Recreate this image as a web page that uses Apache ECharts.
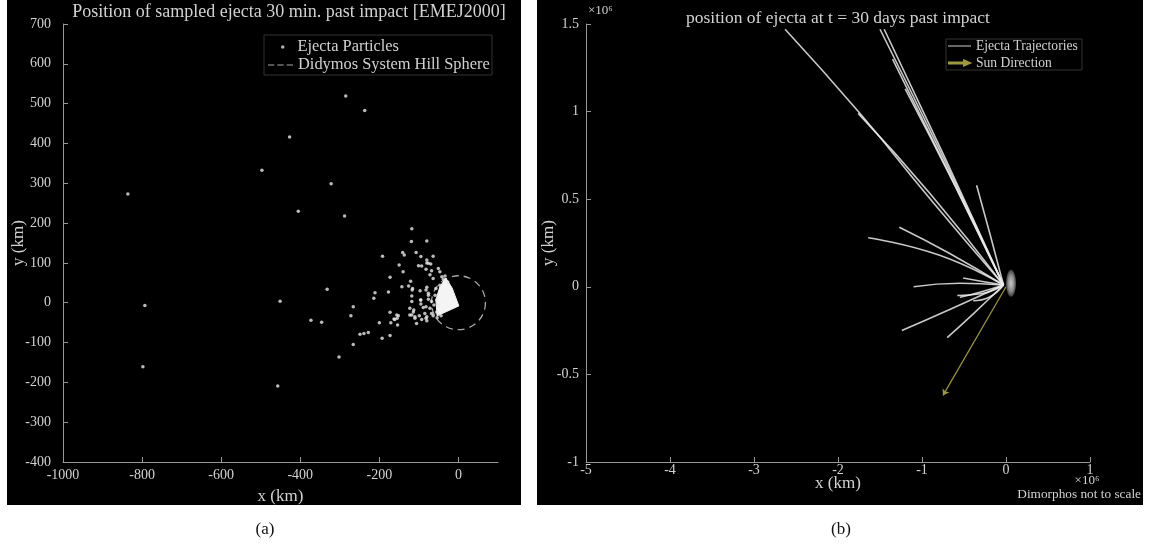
<!DOCTYPE html>
<html>
<head>
<meta charset="utf-8">
<script src="https://cdn.jsdelivr.net/npm/echarts@6/dist/echarts.min.js"></script>
<style>
html,body{margin:0;padding:0;background:#fff;}
#c{width:1150px;height:548px;}
</style>
</head>
<body>
<div id="c"></div>
<script>
// ---------- Panel (a): ejecta particles 30 min past impact (km) ----------
const particlesX = [-836,-793,-798,-497,-427,-405,-322,-285,-237,-288,-332,-451,-373,-346,-302,-457,
  -118,-119,-80,-192,-141,-137,-107,-95,-80,-150,-101,-93,-140,-82,-173,-121,-143,-126,-211,-177,-117,-82,
  -214,-118,-118,-96,-76,-266,-89,-113,-173,-272,-152,-161,-118,-110,-99,-85,-82,-200,-154,-106,-249,-228,
  -173,-193,-266,-64,-80,-76,-70,-68,-51,-47,-72,-64,-42,-38,-34,-116,-80,-57,-47,-97,-76,-59,-95,-76,-68,
  -55,-123,-95,-82,-72,-62,-156,-114,-55,-110,-80,-68,-163,-123,-93,-171,-155,-80,-239,-27,-52,-64,-54,-44];
const particlesY = [273,-7,-161,333,416,230,299,519,483,218,34,4,-44,-49,-136,-209,
  186,154,155,117,126,120,126,116,107,95,93,92,78,84,64,54,40,42,25,27,32,32,
  11,17,3,7,19,-10,-12,-18,-24,-33,-33,-42,-31,-39,-33,-27,-39,-50,-56,-52,-79,-75,
  -82,-89,-105,117,100,99,97,80,86,78,70,61,65,59,67,36,39,36,44,30,24,19,7,9,3,
  7,-14,-3,-10,-14,-6,-31,-23,-23,-35,-35,-27,-41,-31,-42,-50,-39,-45,-77,52,-6,-33,-38,-33];
// dense (saturated) wedge of particles next to the impact site
const wedgeX = [-32,-16,1,-54,-57,-47];
const wedgeY = [62,37,-8,-33,7,40];
// Didymos system Hill sphere: centre and radius (km)
const hillSphere = [0, 0, 68];
const xTicksA = [-1000,-800,-600,-400,-200,0];

// ---------- Panel (b): ejecta at t = 30 days (units of 10^6 km) ----------
const trajectories = [
  [[-0.03,0.01],[-0.9,0.5],[-1.74,0.99],[-2.63,1.47]],
  [[-0.03,0.01],[-0.9,0.53],[-1.76,0.99]],
  [[-0.03,0.01],[-0.75,0.74],[-1.5,1.47]],
  [[-0.03,0.01],[-0.73,0.74],[-1.45,1.47]],
  [[-0.03,0.01],[-0.68,0.65],[-1.35,1.30]],
  [[-0.03,0.01],[-0.6,0.57],[-1.2,1.13]],
  [[-0.03,0.01],[-0.19,0.3],[-0.35,0.58]],
  [[-0.03,0.01],[-0.79,0.18],[-1.64,0.28]],
  [[-0.03,0.01],[-0.67,0.19],[-1.27,0.34]],
  [[-0.03,0.01],[-0.55,0.02],[-1.1,0.0]],
  [[-0.03,0.01],[-0.67,-0.13],[-1.24,-0.25]],
  [[-0.03,0.01],[-0.38,-0.15],[-0.70,-0.29]],
  [[-0.03,0.01],[-0.3,-0.03],[-0.55,-0.06]],
  [[-0.03,0.01],[-0.28,0.03],[-0.51,0.05]],
  [[-0.03,0.01],[-0.3,-0.04],[-0.58,-0.05]],
  [[-0.03,0.01],[-0.2,-0.06],[-0.39,-0.08]]
];
const sunDirection = [[0,0],[-0.75,-0.62]];
const dimorphos = [0.06, 0.02, 0.06, 0.077]; // centre x, y, semi-axes (not to scale)

const FONT = 'Liberation Serif';
const TXT = '#d2d2d2';
const AX = '#969696';

function axisCommon(margin){
  return {
    type:'value',
    axisLine:{show:true, onZero:false, lineStyle:{color:AX, width:1}},
    axisTick:{show:true, inside:true, length:5, lineStyle:{color:AX}},
    splitLine:{show:false},
    axisLabel:{color:TXT, fontFamily:FONT, fontSize:14, margin:margin, formatter:(v)=>String(v)},
    nameMoveOverlap:false,
    nameTextStyle:{color:TXT, fontFamily:FONT, fontSize:17}
  };
}

const particleData = particlesX.map((x,i)=>[x, particlesY[i]]);

const series = [];
series.push({
  name:'Ejecta Particles', type:'scatter', xAxisIndex:0, yAxisIndex:0,
  data: particleData, symbolSize:3.5, itemStyle:{color:'#e8e8e8'}, z:3
});
series.push({
  name:'Wedge', type:'custom', xAxisIndex:0, yAxisIndex:0, data:[[0,0]],
  renderItem:function(params, api){
    const pts = wedgeX.map((x,i)=>api.coord([x, wedgeY[i]]));
    return {type:'polygon', shape:{points:pts}, style:{fill:'#f4f4f4', stroke:'#f4f4f4', lineWidth:1}};
  }, z:3, silent:true
});
series.push({
  name:'Didymos System Hill Sphere', type:'custom', xAxisIndex:0, yAxisIndex:0,
  data:[hillSphere],
  itemStyle:{color:'#aaaaaa'},
  renderItem:function(params, api){
    const c = api.coord([api.value(0), api.value(1)]);
    const s = api.size([api.value(2), api.value(2)]);
    return {type:'circle', shape:{cx:c[0], cy:c[1], r:(s[0]+s[1])/2},
      style:{fill:null, stroke:'#a8a8a8', lineWidth:1.3, lineDash:[7,5]}};
  }, z:2
});
trajectories.forEach(t=>{
  series.push({
    name:'Ejecta Trajectories', type:'line', xAxisIndex:1, yAxisIndex:1,
    data:t, smooth:true, showSymbol:false, symbol:'none',
    lineStyle:{color:'rgba(235,235,235,0.85)', width:1.6}, z:3, silent:true
  });
});
series.push({
  name:'Sun Direction', type:'lines', coordinateSystem:'cartesian2d', xAxisIndex:1, yAxisIndex:1,
  data:[{coords:sunDirection}], symbol:['none','arrow'], symbolSize:6,
  lineStyle:{color:'#9c9a3c', width:1.2, opacity:1}, z:2
});
series.push({
  name:'Dimorphos', type:'custom', xAxisIndex:1, yAxisIndex:1, data:[dimorphos],
  renderItem:function(params, api){
    const c = api.coord([api.value(0), api.value(1)]);
    const s = api.size([api.value(2), api.value(3)]);
    return {type:'circle', x:c[0], y:c[1], scaleY:s[1]/s[0],
      shape:{cx:0, cy:0, r:s[0]},
      style:{fill:{type:'radial', x:0.5, y:0.5, r:0.5, colorStops:[{offset:0,color:'#c8c8c8'},{offset:0.6,color:'#8a8a8a'},{offset:1,color:'#3a3a3a'}]}}};
  }, z:4, silent:true
});

const legendText = (size)=>({color:TXT, fontFamily:FONT, fontSize:size});

const option = {
  backgroundColor:'#ffffff',
  animation:false,
  textStyle:{fontFamily:FONT},
  grid:[
    {left:63, top:24, width:435, height:438},
    {left:586, top:24, width:504, height:438}
  ],
  xAxis:[
    Object.assign(axisCommon(6), {gridIndex:0, min:-1000, max:100,
      axisTick:{show:true, inside:true, length:5, lineStyle:{color:AX}, customValues:xTicksA},
      axisLabel:{color:TXT, fontFamily:FONT, fontSize:14, margin:6, customValues:xTicksA, formatter:(v)=>String(v)},
      name:'x (km)', nameLocation:'middle', nameGap:26}),
    Object.assign(axisCommon(1), {gridIndex:1, min:-5, max:1, interval:1,
      name:'x (km)', nameLocation:'middle', nameGap:13})
  ],
  yAxis:[
    Object.assign(axisCommon(12), {gridIndex:0, min:-400, max:700, interval:100,
      name:'y (km)', nameLocation:'middle', nameGap:36}),
    Object.assign(axisCommon(7), {gridIndex:1, min:-1, max:1.5, interval:0.5,
      name:'y (km)', nameLocation:'middle', nameGap:29})
  ],
  legend:[
    {data:[{name:'Ejecta Particles', icon:'circle', itemStyle:{color:'#e0e0e0'}}], left:281, top:39, padding:0,
     itemWidth:3.5, itemHeight:3.5, selectedMode:false, textStyle:Object.assign(legendText(16.4),{padding:[0,0,0,8]})},
    {data:[{name:'Didymos System Hill Sphere', icon:'path://M0,0H6V1H0Z M9,0H15V1H9Z M18,0H24V1H18Z', itemStyle:{color:'#aaaaaa'}}],
     left:268, top:57, padding:0, itemWidth:25, itemHeight:1.4, selectedMode:false, textStyle:legendText(16.4)},
    {data:[{name:'Ejecta Trajectories', icon:'path://M0,0H25V1H0Z', itemStyle:{color:'#e0e0e0'}}],
     left:948, top:39, padding:0, itemWidth:23, itemHeight:1.4, selectedMode:false, textStyle:legendText(13.6)},
    {data:[{name:'Sun Direction', icon:'path://M0,4.5H19V5.5H0Z M18,2L25,5L18,8Z', itemStyle:{color:'#a09e42'}}],
     left:948, top:56, padding:0, itemWidth:23, itemHeight:5, selectedMode:false, textStyle:legendText(13.6)}
  ],
  graphic:[
    {type:'rect', z:-100, shape:{x:7, y:0, width:514, height:505}, style:{fill:'#000'}},
    {type:'rect', z:-100, shape:{x:537, y:0, width:606, height:505}, style:{fill:'#000'}},
    {type:'rect', z:-50, shape:{x:264, y:35, width:228, height:40}, style:{fill:'#000', stroke:'#333', lineWidth:1}},
    {type:'rect', z:-50, shape:{x:946, y:39, width:136, height:31}, style:{fill:'#000', stroke:'#333', lineWidth:1}},
    {type:'text', z:10, style:{text:'Position of sampled ejecta 30 min. past impact [EMEJ2000]', x:289, y:12,
      textAlign:'center', textVerticalAlign:'middle', fill:TXT, font:'18px "Liberation Serif"'}},
    {type:'text', z:10, style:{text:'position of ejecta at t = 30 days past impact', x:838, y:18,
      textAlign:'center', textVerticalAlign:'middle', fill:TXT, font:'17.5px "Liberation Serif"'}},
    {type:'text', z:10, style:{text:'×10⁶', x:588, y:11, textAlign:'left', textVerticalAlign:'middle',
      fill:TXT, font:'13px "Liberation Serif"'}},
    {type:'text', z:10, style:{text:'×10⁶', x:1087, y:481, textAlign:'center', textVerticalAlign:'middle',
      fill:TXT, font:'13px "Liberation Serif"'}},
    {type:'text', z:10, style:{text:'Dimorphos not to scale', x:1141, y:495, textAlign:'right', textVerticalAlign:'middle',
      fill:TXT, font:'13.3px "Liberation Serif"'}},
    {type:'text', z:10, style:{text:'(a)', x:265, y:530, textAlign:'center', textVerticalAlign:'middle',
      fill:'#111', font:'17px "Liberation Serif"'}},
    {type:'text', z:10, style:{text:'(b)', x:841, y:530, textAlign:'center', textVerticalAlign:'middle',
      fill:'#111', font:'17px "Liberation Serif"'}}
  ],
  series: series
};

const chart = echarts.init(document.getElementById('c'), null, {renderer:'canvas'});
chart.setOption(option);
</script>
</body>
</html>
